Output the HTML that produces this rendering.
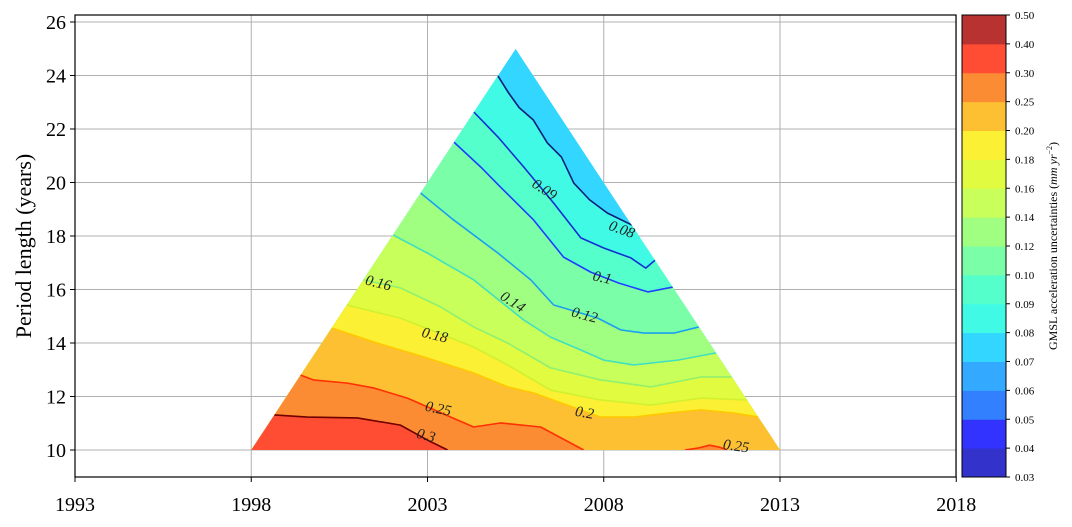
<!DOCTYPE html>
<html><head><meta charset="utf-8"><style>
html,body{margin:0;padding:0;background:#fff;}
svg{display:block;font-family:"Liberation Serif","DejaVu Serif",serif;}
</style></head><body>
<svg id="chart" width="1072" height="527" viewBox="0 0 1072 527">
<g id="grid"></g>
<defs><clipPath id="tri"><polygon id="triPoly"/></clipPath></defs>
<g id="fills" clip-path="url(#tri)"></g>
<g id="lines" clip-path="url(#tri)"></g>
<g id="labels"></g>
<rect x="75" y="15" width="881" height="462" fill="none" stroke="#000" stroke-width="1.2"/>
<g id="axes"></g>
<text transform="translate(31,246) rotate(-90)" text-anchor="middle" font-size="22">Period length (years)</text>
<g id="cbar"></g>
<text transform="translate(1057,246) rotate(-90)" text-anchor="middle" font-size="12">GMSL acceleration uncertainties (<tspan font-style="italic">mm yr</tspan><tspan font-size="8" dy="-5">−2</tspan><tspan dy="5">)</tspan></text>
</svg>
<script>
const xTicks=[1993,1998,2003,2008,2013,2018];
const yTicks=[10,12,14,16,18,20,22,24,26];
const cbarLevels=[0.03,0.04,0.05,0.06,0.07,0.08,0.09,0.10,0.12,0.14,0.16,0.18,0.20,0.25,0.30,0.40,0.50];
const cbarLabels=["0.03","0.04","0.05","0.06","0.07","0.08","0.09","0.10","0.12","0.14","0.16","0.18","0.20","0.25","0.30","0.40","0.50"];
const bandColors=["#3333cc","#3333ff","#3380ff","#33aaff","#33d6ff","#40fae6","#55ffcc","#7affa8","#a0ff80","#c8ff5a","#e0fb40","#fbf033","#fdc033","#fc8c33","#ff4d33","#b83232"];
const triangle=[[1998,10],[2005.5,25],[2013,10]];
const contourLevels=[0.08,0.09,0.10,0.12,0.14,0.16,0.18,0.20,0.25,0.30];
const contourColors=["#0c1f7a","#1030d0","#1f40ff","#1aa0f0","#40e0c0","#90f070","#d0f030","#ffc800","#ff3000","#700000"];
const c008=[[2005.0,23.98],[2005.3,23.35],[2005.6,22.8],[2006.0,22.34],[2006.4,21.48],[2006.8,20.95],[2007.15,19.98],[2007.6,19.35],[2008.1,18.86],[2008.8,18.41]];
const c009=[[2004.31,22.64],[2005.0,21.7],[2005.73,20.58],[2006.58,19.23],[2007.35,17.93],[2008.0,17.55],[2008.77,17.18],[2009.19,16.8],[2009.46,17.1]];
const c010=[[2003.75,21.51],[2004.51,20.58],[2005.07,19.83],[2006.01,18.6],[2006.86,17.21],[2007.63,16.65],[2008.43,16.24],[2009.25,15.91],[2009.96,16.09]];
const c012=[[2002.8,19.61],[2003.74,18.6],[2005.0,17.36],[2005.93,16.36],[2006.58,15.42],[2007.83,14.93],[2008.48,14.49],[2009.14,14.37],[2009.99,14.37],[2010.7,14.6]];
const c014=[[2002.02,18.04],[2003.0,17.36],[2004.31,16.36],[2005.73,14.86],[2006.49,14.22],[2007.35,13.74],[2008.0,13.36],[2008.85,13.18],[2010.1,13.36],[2011.19,13.63]];
const c016=[[2001.18,16.36],[2002.23,16.06],[2003.37,15.35],[2004.31,14.6],[2005.27,14.0],[2006.49,13.07],[2007.91,12.62],[2009.34,12.36],[2010.76,12.73],[2011.64,12.73]];
const c018=[[2000.71,15.42],[2002.23,14.93],[2004.31,13.85],[2005.27,13.18],[2006.49,12.24],[2007.91,11.87],[2009.34,11.68],[2010.76,11.94],[2012.07,11.87]];
const c020=[[2000.28,14.56],[2001.47,14.04],[2002.89,13.48],[2004.31,12.88],[2005.27,12.36],[2006.01,12.13],[2007.91,11.23],[2008.85,11.23],[2009.82,11.38],[2010.76,11.5],[2011.69,11.38],[2012.39,11.23]];
const c025=[[1999.4,12.8],[1999.76,12.62],[2000.73,12.5],[2001.47,12.32],[2002.43,11.94],[2003.85,11.12],[2004.31,10.86],[2005.07,11.01],[2006.21,10.86],[2007.43,10.0]];
const c025b=[[2010.3,10.0],[2010.7,10.08],[2011.0,10.18],[2011.3,10.1],[2011.5,10.0]];
const c030=[[1998.65,11.31],[1999.59,11.23],[2001.01,11.2],[2002.23,10.93],[2003.0,10.37],[2003.57,10.0]];
const contourData=[[c008],[c009],[c010],[c012],[c014],[c016],[c018],[c020],[c025,c025b],[c030]];
const labelText=["0.08","0.09","0.1","0.12","0.14","0.16","0.18","0.2","0.25","0.3","0.25"];
const labelPos=[[2008.5,18.2],[2006.3,19.7],[2007.95,16.4],[2007.45,15.0],[2005.4,15.5],[2001.6,16.2],[2003.2,14.25],[2007.45,11.35],[2003.3,11.5],[2002.95,10.5],[2011.75,10.1]];
const labelRot=[20,33,12,15,33,14,14,10,12,15,8];

const NS="http://www.w3.org/2000/svg";
const xs=v=>75+(v-1993)*35.25;
const ys=v=>450-(v-10)*26.75;
function mk(tag,attrs,parent){const e=document.createElementNS(NS,tag);for(const k in attrs)e.setAttribute(k,attrs[k]);parent.appendChild(e);return e;}
const grid=document.getElementById('grid'),axes=document.getElementById('axes');
xTicks.forEach(t=>{
  const g=mk('line',{x1:xs(t),x2:xs(t),y1:15,y2:477,stroke:'#b0b0b0','stroke-width':1},grid);
  
  
  const tk=mk('line',{x1:xs(t),x2:xs(t),y1:477,y2:482,stroke:'#000','stroke-width':1},axes);
  
  
  const tx=mk('text',{x:xs(t),y:511,'text-anchor':'middle','font-size':20},axes);
  tx.textContent=t;
  
  
});
yTicks.forEach(t=>{
  const g=mk('line',{x1:75,x2:956,y1:ys(t),y2:ys(t),stroke:'#b0b0b0','stroke-width':1},grid);
  
  
  const tk=mk('line',{x1:70,x2:75,y1:ys(t),y2:ys(t),stroke:'#000','stroke-width':1},axes);
  
  
  const tx=mk('text',{x:66,y:ys(t)+7,'text-anchor':'end','font-size':20},axes);
  tx.textContent=t;
  
  
});
const triPts=triangle.map(p=>xs(p[0])+','+ys(p[1])).join(' ');
document.getElementById('triPoly').setAttribute('points',triPts);
const fills=document.getElementById('fills'),lines=document.getElementById('lines'),labels=document.getElementById('labels');
const base=mk('polygon',{points:triPts,fill:bandColors[4]},fills);


contourLevels.forEach((lv,i)=>{
  const bi=cbarLevels.indexOf(lv);
  const col=bandColors[bi];
  contourData[i].forEach(seg=>{
    const pts=seg.map(p=>[xs(p[0]),ys(p[1])]);
    const first=pts[0],last=pts[pts.length-1];
    const poly=pts.slice();
    if(seg[seg.length-1][1]<=10.01){poly.push([last[0],520]);}
    else{poly.push([last[0]+300,last[1]]);poly.push([1100,520]);}
    poly.push([0,520]);poly.push([0,first[1]]);
    const f=mk('polygon',{points:poly.map(p=>p.join(',')).join(' '),fill:col},fills);
    
    
  });
});
contourLevels.forEach((lv,i)=>{
  contourData[i].forEach(seg=>{
    const l=mk('polyline',{points:seg.map(p=>xs(p[0])+','+ys(p[1])).join(' '),fill:'none',stroke:contourColors[i],'stroke-width':1.6,'stroke-linejoin':'round'},lines);
    
    
  });
});
labelText.forEach((t,i)=>{
  const x=xs(labelPos[i][0]),y=ys(labelPos[i][1]);
  const tx=mk('text',{x:x,y:y,'text-anchor':'middle','dominant-baseline':'middle','font-size':15,'font-style':'italic',fill:'#222',transform:`rotate(${labelRot[i]} ${x} ${y})`},labels);
  tx.textContent=t;
  
  
});
const cb=document.getElementById('cbar');
const cbTop=15,cbBot=477,cbX=962,cbW=44;
const n=bandColors.length,bh=(cbBot-cbTop)/n;
bandColors.forEach((c,i)=>{
  const r=mk('rect',{x:cbX,y:cbBot-(i+1)*bh,width:cbW,height:bh+0.5,fill:c},cb);
  
  
});
const fr=mk('rect',{x:cbX,y:cbTop,width:cbW,height:cbBot-cbTop,fill:'none',stroke:'#000','stroke-width':1},cb);


cbarLabels.forEach((t,i)=>{
  const y=cbBot-i*bh;
  const tk=mk('line',{x1:cbX+cbW,x2:cbX+cbW+4,y1:y,y2:y,stroke:'#000','stroke-width':1},cb);
  
  
  const tx=mk('text',{x:cbX+cbW+9,y:y+4,'font-size':11},cb);
  tx.textContent=t;
  
  
});
</script>
</body></html>
